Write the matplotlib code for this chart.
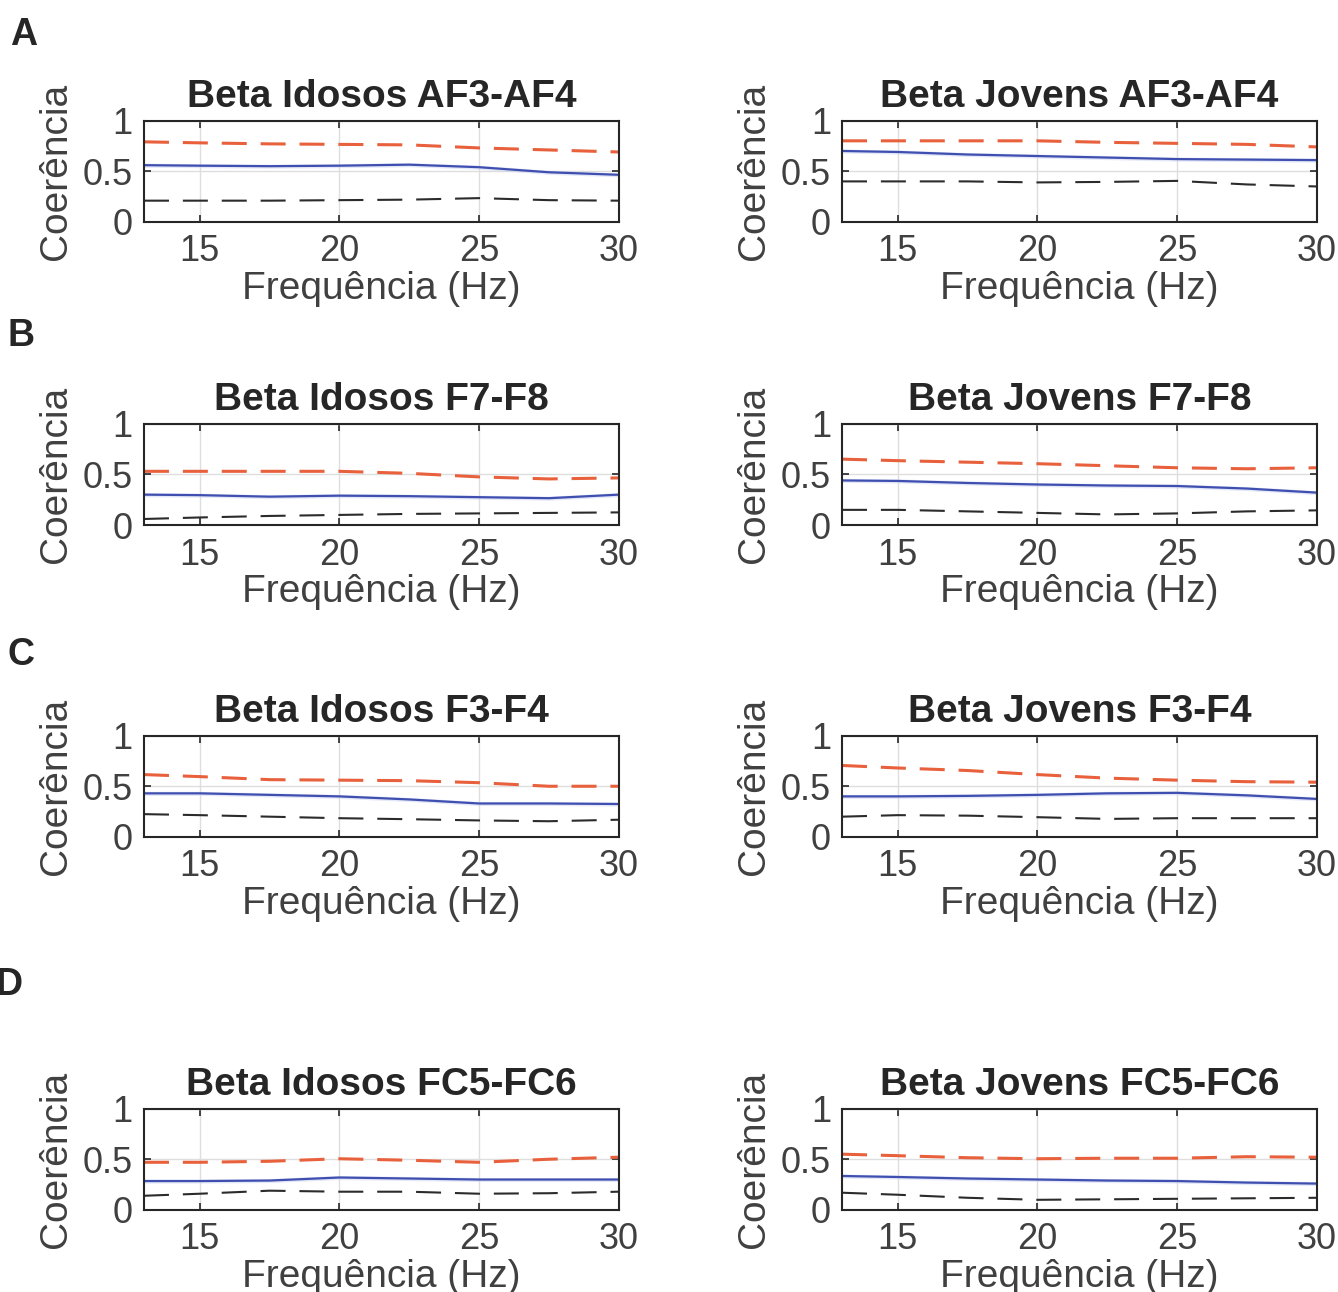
import matplotlib
matplotlib.use("Agg")
import matplotlib.pyplot as plt

plt.rcParams["font.family"] = ["Liberation Sans", "DejaVu Sans"]
plt.rcParams["lines.scale_dashes"] = False

freq = [13, 15, 17.5, 20, 22.5, 25, 27.5, 30]

titles = [
    "Beta Idosos AF3-AF4", "Beta Jovens AF3-AF4",
    "Beta Idosos F7-F8", "Beta Jovens F7-F8",
    "Beta Idosos F3-F4", "Beta Jovens F3-F4",
    "Beta Idosos FC5-FC6", "Beta Jovens FC5-FC6",
]

# coherence (blue), upper limit (red dashed), lower limit (black dashed)
coh = [
    [0.56, 0.555, 0.55, 0.555, 0.565, 0.54, 0.49, 0.465],
    [0.70, 0.69, 0.665, 0.65, 0.635, 0.62, 0.615, 0.61],
    [0.30, 0.295, 0.28, 0.29, 0.285, 0.275, 0.265, 0.30],
    [0.44, 0.435, 0.415, 0.40, 0.39, 0.385, 0.36, 0.32],
    [0.43, 0.43, 0.415, 0.40, 0.37, 0.33, 0.33, 0.325],
    [0.40, 0.40, 0.405, 0.415, 0.43, 0.435, 0.41, 0.375],
    [0.285, 0.285, 0.29, 0.32, 0.31, 0.30, 0.30, 0.30],
    [0.335, 0.325, 0.31, 0.30, 0.29, 0.285, 0.27, 0.26],
]
upper = [
    [0.79, 0.78, 0.77, 0.765, 0.76, 0.73, 0.71, 0.69],
    [0.80, 0.80, 0.80, 0.80, 0.785, 0.775, 0.765, 0.74],
    [0.53, 0.53, 0.53, 0.53, 0.51, 0.475, 0.455, 0.465],
    [0.65, 0.635, 0.62, 0.605, 0.585, 0.565, 0.555, 0.565],
    [0.615, 0.595, 0.565, 0.56, 0.555, 0.535, 0.50, 0.50],
    [0.705, 0.68, 0.655, 0.615, 0.58, 0.56, 0.545, 0.54],
    [0.47, 0.47, 0.48, 0.505, 0.49, 0.47, 0.50, 0.52],
    [0.55, 0.535, 0.515, 0.505, 0.51, 0.51, 0.525, 0.52],
]
lower = [
    [0.21, 0.21, 0.21, 0.215, 0.22, 0.235, 0.215, 0.21],
    [0.40, 0.40, 0.40, 0.39, 0.395, 0.405, 0.37, 0.35],
    [0.06, 0.075, 0.09, 0.10, 0.11, 0.115, 0.12, 0.125],
    [0.15, 0.15, 0.135, 0.12, 0.105, 0.115, 0.135, 0.145],
    [0.225, 0.215, 0.20, 0.185, 0.175, 0.163, 0.155, 0.17],
    [0.20, 0.215, 0.21, 0.195, 0.178, 0.185, 0.185, 0.185],
    [0.14, 0.16, 0.19, 0.18, 0.18, 0.16, 0.165, 0.18],
    [0.17, 0.15, 0.12, 0.10, 0.105, 0.11, 0.115, 0.12],
]

panel_letters = ["A", "B", "C", "D"]

fig = plt.figure(figsize=(13.38, 12.92), dpi=100)

col_x = [0.1076, 0.6293]
col_w = 0.3548
row_y = [0.8282, 0.5936, 0.3522, 0.0635]
row_h = 0.0785
letter_pos = [(0.018, 0.973), (0.016, 0.740), (0.016, 0.493), (0.007, 0.238)]

for i in range(8):
    r, c = divmod(i, 2)
    ax = fig.add_axes([col_x[c], row_y[r], col_w, row_h])
    ax.fill_between(freq, [v - 0.02 for v in coh[i]], [v + 0.02 for v in coh[i]],
                    color="#c8d0f0", alpha=0.5, lw=0)
    ax.plot(freq, coh[i], color="#3f4fb0", lw=1.6)
    ax.plot(freq, upper[i], color="#e8603c", lw=2.2, dashes=(18, 10))
    ax.plot(freq, lower[i], color="#2b2b2b", lw=1.5, dashes=(18, 10))

    ax.set_xlim(13, 30)
    ax.set_ylim(0, 1)
    ax.set_xticks([15, 20, 25, 30])
    ax.set_yticks([0, 0.5, 1])
    ax.set_yticklabels(["0", "0.5", "1"])
    ax.grid(True, color="#dedede", lw=1)
    ax.set_axisbelow(True)
    ax.tick_params(direction="in", length=5, width=1.2, top=True, right=True,
                   labelsize=26, colors="#262626", labelcolor="#404040")
    ax.tick_params(axis="x", pad=9)
    ax.tick_params(axis="y", pad=8)
    for s in ax.spines.values():
        s.set_color("#262626")
        s.set_linewidth(1.5)
    ax.set_title(titles[i], fontsize=28, fontweight="bold", color="#262626", pad=10)
    ax.set_xlabel("Frequência (Hz)", fontsize=28, color="#404040", labelpad=1)
    ax.set_ylabel("Coerência", fontsize=28, color="#404040", labelpad=6)

for (lx, ly), letter in zip(letter_pos, panel_letters):
    fig.text(lx, ly, letter, fontsize=27, fontweight="bold", color="#262626",
             ha="center", va="center")

fig.savefig("out.png", dpi=100)
